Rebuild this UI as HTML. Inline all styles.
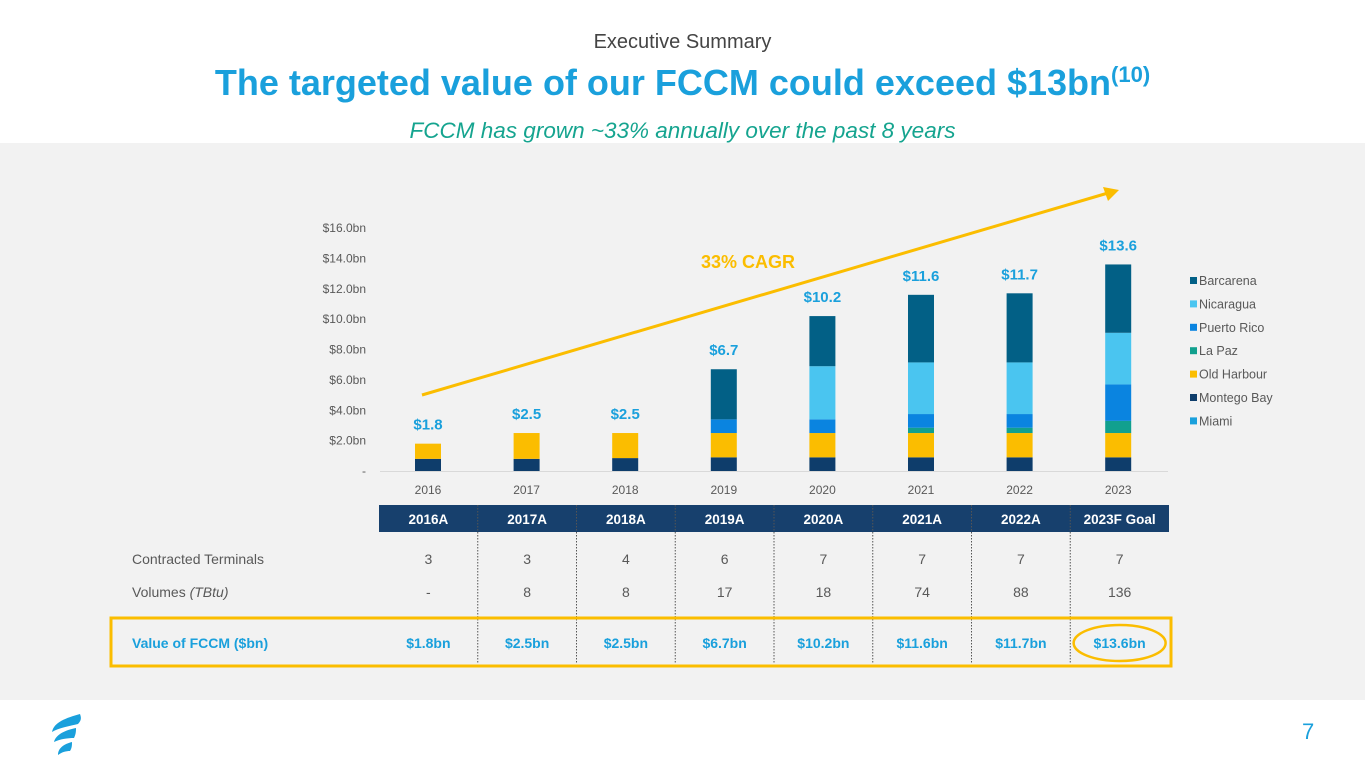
<!DOCTYPE html>
<html><head><meta charset="utf-8"><style>
body{margin:0;width:1365px;height:768px;background:#fff;font-family:"Liberation Sans",sans-serif;position:relative;overflow:hidden}
.abs{position:absolute}
#panel{left:0;top:143px;width:1365px;height:557px;background:#f2f2f2}
</style></head><body>
<div class="abs" style="left:0;width:1365px;top:31px;text-align:center;font-size:20px;color:#444">Executive Summary</div>
<div class="abs" style="left:0;width:1365px;top:62px;text-align:center;font-size:36px;font-weight:bold;color:#1aa0dc">The targeted value of our FCCM could exceed $13bn<sup style="font-size:22px">(10)</sup></div>
<div class="abs" style="left:0;width:1365px;top:118px;text-align:center;font-size:22.5px;font-style:italic;color:#15a48f">FCCM has grown ~33% annually over the past 8 years</div>
<div class="abs" id="panel"></div>
<svg class="abs" style="left:0;top:0" width="1365" height="768" id="chart"></svg>
<div class="abs" style="left:1302px;top:719px;font-size:22px;color:#1aa0dc">7</div>
<svg class="abs" style="left:48px;top:712px" width="36" height="46">
<path d="M32,2 C18,6 6,10 4,20 C10,16 22,14 30,12 C34,8 33,5 32,2Z" fill="#1aa0dc"/>
<path d="M28,16 C18,18 8,22 6,30 C12,27 20,26 26,26 C28,22 28,19 28,16Z" fill="#1aa0dc"/>
<path d="M24,30 C16,32 10,36 10,43 C14,40 18,39 22,39 C24,36 24,33 24,30Z" fill="#1aa0dc"/>
</svg>
<script>
const years=["2016","2017","2018","2019","2020","2021","2022","2023"];
const totals=["$1.8","$2.5","$2.5","$6.7","$10.2","$11.6","$11.7","$13.6"];
const seriesNames=["Miami","Montego Bay","Old Harbour","La Paz","Puerto Rico","Nicaragua","Barcarena"];
const miami=[0,0,0,0,0,0,0,0];
const montegoBay=[0.8,0.8,0.85,0.9,0.9,0.9,0.9,0.9];
const oldHarbour=[1.0,1.7,1.65,1.6,1.6,1.6,1.6,1.6];
const laPaz=[0,0,0,0,0,0.35,0.35,0.8];
const puertoRico=[0,0,0,0.9,0.9,0.9,0.9,2.4];
const nicaragua=[0,0,0,0,3.5,3.4,3.4,3.4];
const barcarena=[0,0,0,3.3,3.3,4.45,4.55,4.5];
const yTicks=[0,2,4,6,8,10,12,14,16];
const yTickLabels=["-","$2.0bn","$4.0bn","$6.0bn","$8.0bn","$10.0bn","$12.0bn","$14.0bn","$16.0bn"];
const colHeads=["2016A","2017A","2018A","2019A","2020A","2021A","2022A","2023F Goal"];
const terminals=["3","3","4","6","7","7","7","7"];
const volumes=["-","8","8","17","18","74","88","136"];
const values=["$1.8bn","$2.5bn","$2.5bn","$6.7bn","$10.2bn","$11.6bn","$11.7bn","$13.6bn"];

const colors=["#1aa0dc","#0e3d6b","#fbbd00","#11a08e","#0a84e0","#4ac5f0","#026086"];
const series=[miami,montegoBay,oldHarbour,laPaz,puertoRico,nicaragua,barcarena];
const svg=document.getElementById('chart');const NS="http://www.w3.org/2000/svg";
function el(t,a,p){const e=document.createElementNS(NS,t);for(const k in a)e.setAttribute(k,a[k]);(p||svg).appendChild(e);return e;}
function txt(s,a){const e=el('text',a);e.textContent=s;return e;}
const y0=471,pxPer=(471-228)/16;
const yS=v=>y0-v*pxPer;
const xS=i=>428+i*98.6;
yTicks.forEach((t,i)=>{const e=txt(yTickLabels[i],{x:366,y:yS(t)+4,'text-anchor':'end','font-size':12,fill:'#595959','font-family':'Liberation Sans'});

});
const ax=el('line',{x1:380,x2:1168,y1:y0+0.5,y2:y0+0.5,stroke:'#d9d9d9'});


years.forEach((yr,i)=>{
 let acc=0;
 series.forEach((s,k)=>{const v=s[i];if(v<=0)return;
  const r=el('rect',{x:xS(i)-13,y:yS(acc+v),width:26,height:v*pxPer,fill:colors[k]});
  
  
  acc+=v;});
 const l=txt(totals[i],{x:xS(i),y:yS(acc)-14,'text-anchor':'middle','font-size':15,'font-weight':'bold',fill:'#1aa0dc','font-family':'Liberation Sans'});
 
 
 const xl=txt(yr,{x:xS(i),y:494,'text-anchor':'middle','font-size':12,fill:'#595959','font-family':'Liberation Sans'});
 
 
});
const ar=el('line',{x1:422,y1:395,x2:1108,y2:193,stroke:'#fbbd00','stroke-width':3});


const ah=el('path',{d:'M1119,190 L1103,187 L1108,201 Z',fill:'#fbbd00'});


const cg=txt('33% CAGR',{x:748,y:268,'text-anchor':'middle','font-size':18,'font-weight':'bold',fill:'#fbbd00','font-family':'Liberation Sans'});


[6,5,4,3,2,1,0].forEach((k,j)=>{const y=281+j*23.4;
 const r=el('rect',{x:1190,y:y-4,width:7,height:7,fill:colors[k]});
 
 
 const t=txt(seriesNames[k],{x:1199,y:y+4,'font-size':12.5,fill:'#595959','font-family':'Liberation Sans'});
 
 });
const cw=98.75,tx=379;
const hb=el('rect',{x:tx,y:505,width:cw*8,height:27,fill:'#17406d'});


for(let i=1;i<8;i++){const d=el('line',{x1:tx+i*cw,x2:tx+i*cw,y1:505,y2:664,stroke:'#555','stroke-dasharray':'1.5,1.5','stroke-width':1});
 
 }
const r1=txt('Contracted Terminals',{x:132,y:564,'font-size':14,fill:'#595959','font-family':'Liberation Sans'});


const r2=txt('',{x:132,y:597,'font-size':14,fill:'#595959','font-family':'Liberation Sans'});
r2.innerHTML='Volumes <tspan font-style="italic">(TBtu)</tspan>';


const box=el('rect',{x:111,y:618,width:1060,height:48,fill:'none',stroke:'#fbbd00','stroke-width':3});


const r3=txt('Value of FCCM ($bn)',{x:132,y:648,'font-size':14,'font-weight':'bold',fill:'#1aa0dc','font-family':'Liberation Sans'});


colHeads.forEach((h,i)=>{const cx=tx+cw*(i+0.5);
 const a=txt(h,{x:cx,y:524,'text-anchor':'middle','font-size':13.5,'font-weight':'bold',fill:'#fff','font-family':'Liberation Sans'});
 
 
 const b=txt(terminals[i],{x:cx,y:564,'text-anchor':'middle','font-size':14,fill:'#595959','font-family':'Liberation Sans'});
 
 
 const c=txt(volumes[i],{x:cx,y:597,'text-anchor':'middle','font-size':14,fill:'#595959','font-family':'Liberation Sans'});
 
 
 const d=txt(values[i],{x:cx,y:648,'text-anchor':'middle','font-size':14,'font-weight':'bold',fill:'#1aa0dc','font-family':'Liberation Sans'});
 
 
});
const ell=el('ellipse',{cx:tx+cw*7.5,cy:643,rx:46,ry:18,fill:'none',stroke:'#fbbd00','stroke-width':2.5});


</script>
</body></html>
